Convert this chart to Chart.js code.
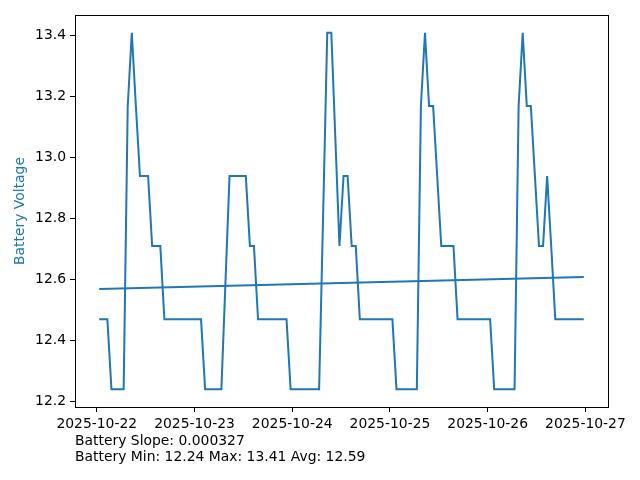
<!DOCTYPE html>
<html>
<head>
<meta charset="utf-8">
<script src="https://cdn.jsdelivr.net/npm/chart.js@4/dist/chart.umd.min.js"></script>
<style>
  body { margin: 0; background: #fff; }
  #wrap { width: 640px; height: 480px; }
</style>
</head>
<body>
<div id="wrap"><canvas id="batteryChart" width="640" height="480"></canvas></div>
<script>
// hourly readings, first one at 2025-10-22 00:36 (hours since midnight)
const firstHour = 0.6;
const voltage = [
    12.47, 12.47, 12.47, 12.24, 12.24, 12.24, 12.24, 13.17, 13.41, 13.17,
    12.94, 12.94, 12.94, 12.71, 12.71, 12.71, 12.47, 12.47, 12.47, 12.47,
    12.47, 12.47, 12.47, 12.47, 12.47, 12.47, 12.24, 12.24, 12.24, 12.24,
    12.24, 12.59, 12.94, 12.94, 12.94, 12.94, 12.94, 12.71, 12.71, 12.47,
    12.47, 12.47, 12.47, 12.47, 12.47, 12.47, 12.47, 12.24, 12.24, 12.24,
    12.24, 12.24, 12.24, 12.24, 12.24, 12.82, 13.41, 13.41, 13.06, 12.71,
    12.94, 12.94, 12.71, 12.71, 12.47, 12.47, 12.47, 12.47, 12.47, 12.47,
    12.47, 12.47, 12.47, 12.24, 12.24, 12.24, 12.24, 12.24, 12.24, 13.17,
    13.41, 13.17, 13.17, 12.94, 12.71, 12.71, 12.71, 12.71, 12.47, 12.47,
    12.47, 12.47, 12.47, 12.47, 12.47, 12.47, 12.47, 12.24, 12.24, 12.24,
    12.24, 12.24, 12.24, 13.17, 13.41, 13.17, 13.17, 12.94, 12.71, 12.71,
    12.94, 12.71, 12.47, 12.47, 12.47, 12.47, 12.47, 12.47, 12.47, 12.47
];
// fitted trend line, value at first and last reading
const trendEnds = [12.569, 12.608];
const dayLabels = ["2025-10-22", "2025-10-23", "2025-10-24", "2025-10-25", "2025-10-26", "2025-10-27"];
const yTicks = [12.2, 12.4, 12.6, 12.8, 13.0, 13.2, 13.4];
const statLines = [
    "Battery Slope: 0.000327",
    "Battery Min: 12.24 Max: 13.41 Avg: 12.59"
];

const blue = "#1f77b4";
const font = { family: "DejaVu Sans", size: 13.9 };

const points = voltage.map((v, i) => ({ x: firstHour + i, y: v }));
const lastHour = firstHour + voltage.length - 1;
const trend = [
    { x: firstHour, y: trendEnds[0] },
    { x: lastHour, y: trendEnds[1] }
];

// matplotlib style 5% margins
const xPad = (lastHour - firstHour) * 0.05;
const vMin = Math.min(...voltage), vMax = Math.max(...voltage);
const yPad = (vMax - vMin) * 0.05;

const framePlugin = {
    id: "frame",
    afterDraw(chart) {
        const { ctx, chartArea: a } = chart;
        ctx.save();
        ctx.strokeStyle = "#000";
        ctx.lineWidth = 1;
        ctx.strokeRect(a.left + 0.5, a.top + 0.5, a.right - a.left, a.bottom - a.top);
        ctx.fillStyle = "#000";
        ctx.font = font.size + "px " + font.family;
        ctx.textBaseline = "middle";
        statLines.forEach((t, i) => ctx.fillText(t, a.left, 441 + i * 16));
        ctx.restore();
    }
};

new Chart(document.getElementById("batteryChart"), {
    type: "line",
    data: {
        datasets: [
            {
                label: "Battery Voltage",
                data: points,
                borderColor: blue,
                borderWidth: 2,
                pointRadius: 0,
                tension: 0,
            },
            {
                label: "Trend",
                data: trend,
                borderColor: blue,
                borderWidth: 2,
                pointRadius: 0,
            },
        ],
    },
    options: {
        responsive: false,
        animation: false,
        layout: { padding: { left: 0, top: 15, right: 32, bottom: 0 } },
        plugins: { legend: { display: false }, tooltip: { enabled: false } },
        scales: {
            x: {
                type: "linear",
                min: firstHour - xPad,
                max: lastHour + xPad,
                afterBuildTicks: (s) => { s.ticks = dayLabels.map((_, i) => ({ value: i * 24 })); },
                afterFit: (s) => { s.height = 73; },
                ticks: {
                    color: "#000",
                    font: font,
                    padding: 4,
                    maxRotation: 0,
                    autoSkip: false,
                    callback: (v) => dayLabels[Math.round(v / 24)],
                },
                grid: { drawOnChartArea: false, color: "#000", tickLength: 5 },
                border: { display: false },
            },
            y: {
                min: vMin - yPad,
                max: vMax + yPad,
                afterBuildTicks: (s) => { s.ticks = yTicks.map((v) => ({ value: v })); },
                afterFit: (s) => { s.width = 75; },
                ticks: {
                    color: "#000",
                    font: font,
                    padding: 4,
                    callback: (v) => v.toFixed(1),
                },
                grid: { drawOnChartArea: false, color: "#000", tickLength: 5 },
                border: { display: false },
                title: {
                    display: true,
                    text: "Battery Voltage",
                    color: blue,
                    font: font,
                    padding: { top: 12, bottom: 0 },
                },
            },
        },
    },
    plugins: [framePlugin],
});
</script>
</body>
</html>
